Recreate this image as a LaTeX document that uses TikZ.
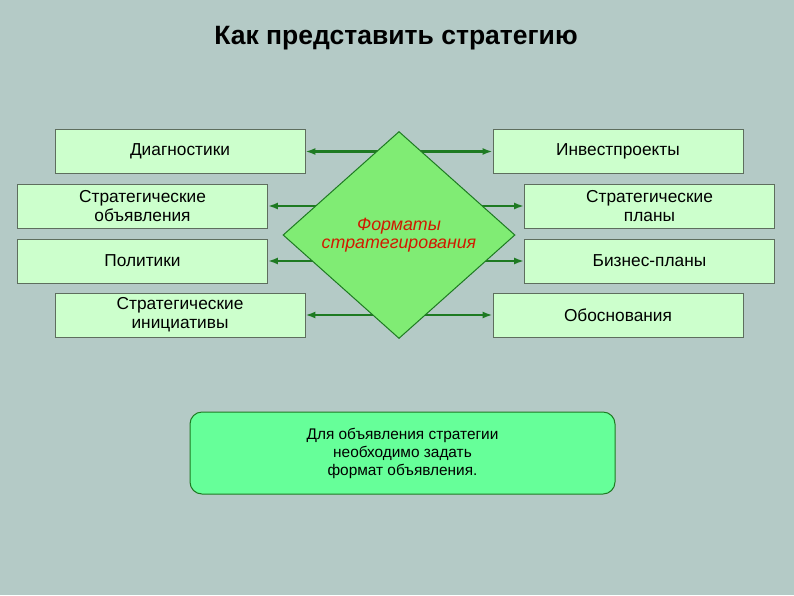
\documentclass[tikz,border=0pt]{standalone}
\usepackage{fontspec}
\setmainfont{Liberation Sans}
\usetikzlibrary{arrows.meta,shapes.geometric}
\definecolor{bgteal}{HTML}{B4CAC6}
\definecolor{boxgreen}{HTML}{CCFFCC}
\definecolor{boxline}{HTML}{5E6E5E}
\definecolor{diagreen}{HTML}{80EC74}
\definecolor{darkgreen}{HTML}{1E7A22}
\definecolor{notegreen}{HTML}{66FF99}
\definecolor{formred}{HTML}{D01A00}

\begin{document}
\begin{tikzpicture}[x=1pt, y=-1pt,
  box/.style={draw=boxline, fill=boxgreen, line width=0.8pt, align=center, inner sep=0pt,
    minimum width=250pt, minimum height=44pt, font=\fontsize{17.3}{19}\selectfont},
  arr/.style={{Latex[length=10pt,width=7pt]}-{Latex[length=10pt,width=7pt]}, line width=2.2pt, darkgreen}]

\fill[bgteal] (0,0) rectangle (794,595);

\node[font=\fontsize{26.5}{30}\selectfont\bfseries] at (396,38) (title) {Как представить стратегию};

\node[box] at (180,151.5) (diag) {Диагностики};
\node[box] at (142.5,206) (obyav) {Стратегические\\объявления};
\node[box] at (142.5,261) (polit) {Политики};
\node[box] at (180,315) (init) {Стратегические\\инициативы};

\node[box] at (618,151.5) (invest) {Инвестпроекты};
\node[box] at (649.5,206) (plany) {Стратегические\\планы};
\node[box] at (649.5,261) (biznes) {Бизнес-планы};
\node[box] at (618,315) (obosn) {Обоснования};

\draw[arr] (diag) -- (invest); \draw[arr] (obyav) -- (plany);
\draw[arr] (polit) -- (biznes); \draw[arr] (init) -- (obosn);

\node[diamond, draw=darkgreen, fill=diagreen, line width=1pt, inner sep=0pt,
  minimum width=232pt, minimum height=207pt, align=center,
  font=\fontsize{17.8}{18}\selectfont\itshape, text=formred] at (399,235) (form)
  {Форматы\\стратегирования};

\node[draw=darkgreen, fill=notegreen, rounded corners=12pt, line width=1pt, align=center,
  minimum width=425pt, minimum height=82pt, font=\fontsize{15.4}{18}\selectfont] at (402.5,453) (note)
  {Для объявления стратегии\\необходимо задать\\формат объявления.};
\end{tikzpicture}
\end{document}
